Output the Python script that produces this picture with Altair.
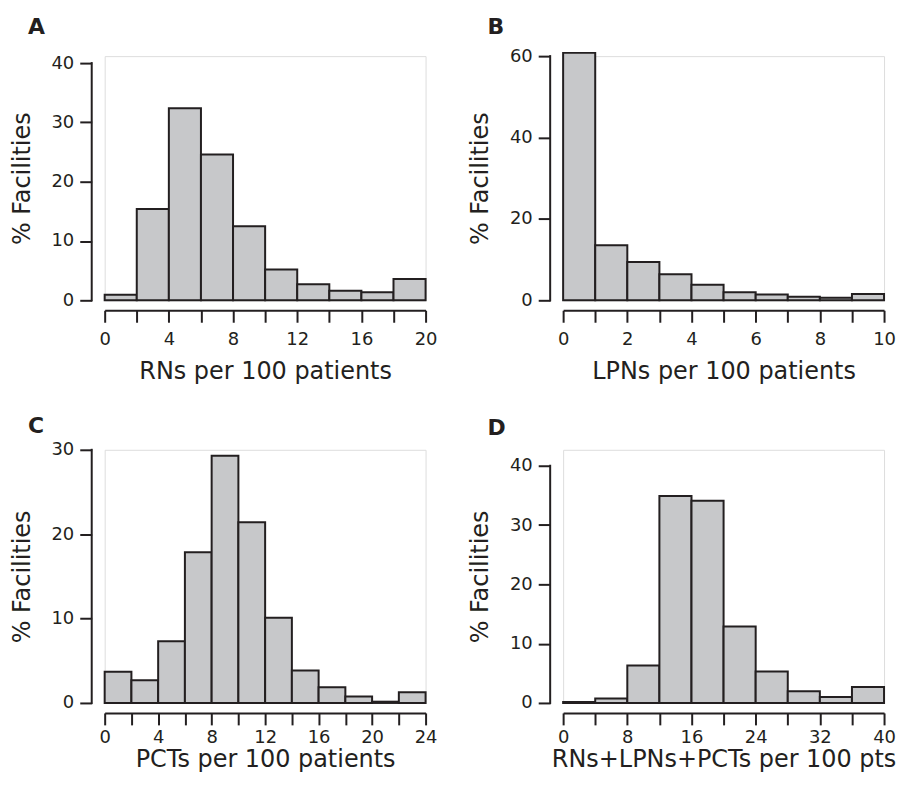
import altair as alt
import pandas as pd

INK = "#231f20"
FILL = "#c7c8ca"
FONT = "DejaVu Sans"

# ---- Panel A: RNs per 100 patients ----
a_starts = [0, 2, 4, 6, 8, 10, 12, 14, 16, 18]
a_pct = [0.95, 15.4, 32.4, 24.6, 12.5, 5.2, 2.7, 1.6, 1.35, 3.6]
a_xticks = [0, 2, 4, 6, 8, 10, 12, 14, 16, 18, 20]
a_xlabels = [0, 4, 8, 12, 16, 20]
a_yticks = [0, 10, 20, 30, 40]

# ---- Panel B: LPNs per 100 patients ----
b_starts = [0, 1, 2, 3, 4, 5, 6, 7, 8, 9]
b_pct = [60.8, 13.5, 9.4, 6.4, 3.8, 2.0, 1.4, 0.9, 0.6, 1.55]
b_xticks = [0, 1, 2, 3, 4, 5, 6, 7, 8, 9, 10]
b_xlabels = [0, 2, 4, 6, 8, 10]
b_yticks = [0, 20, 40, 60]

# ---- Panel C: PCTs per 100 patients ----
c_starts = [0, 2, 4, 6, 8, 10, 12, 14, 16, 18, 20, 22]
c_pct = [3.7, 2.7, 7.3, 17.85, 29.3, 21.4, 10.1, 3.85, 1.85, 0.75, 0.15, 1.26]
c_xticks = [0, 2, 4, 6, 8, 10, 12, 14, 16, 18, 20, 22, 24]
c_xlabels = [0, 4, 8, 12, 16, 20, 24]
c_yticks = [0, 10, 20, 30]

# ---- Panel D: RNs+LPNs+PCTs per 100 pts ----
d_starts = [0, 4, 8, 12, 16, 20, 24, 28, 32, 36]
d_pct = [0.17, 0.73, 6.3, 34.9, 34.1, 12.9, 5.3, 1.96, 1.0, 2.7]
d_xticks = [0, 4, 8, 12, 16, 20, 24, 28, 32, 36, 40]
d_xlabels = [0, 8, 16, 24, 32, 40]
d_yticks = [0, 10, 20, 30, 40]

W = 322
H1 = 245
H2 = 254


def panel(starts, binw, pct, xticks, xlabels, yticks, ydmax, height, xtitle,
          letter, lx, ly, lpad, tpad, anchor=False):
    df = pd.DataFrame({
        "x0": starts,
        "x1": [s + binw for s in starts],
        "pct": pct,
        "y0": [0] * len(starts),
    })
    xmax = xticks[-1]
    xscale = alt.Scale(domain=[0, xmax], nice=False, zero=False)
    yscale = alt.Scale(domain=[0, ydmax], nice=False, zero=True)
    lab = "|".join(str(v) for v in xlabels)
    xaxis = alt.Axis(
        values=xticks,
        labelExpr="indexof('|" + lab + "|', '|' + datum.value + '|') >= 0 ? datum.label : ''",
        title=xtitle, offset=10, tickSize=12, tickWidth=2, domainWidth=2,
        domainColor=INK, tickColor=INK, labelColor=INK, titleColor=INK,
        labelFontSize=18, titleFontSize=24, labelPadding=lpad, titlePadding=tpad,
        labelFlush=False, labelOverlap=False, grid=False,
        labelFont=FONT, titleFont=FONT, titleFontWeight="normal",
    )
    yaxis = alt.Axis(
        values=yticks, title="% Facilities", offset=13, tickSize=12, tickWidth=2,
        domain=False, tickColor=INK, labelColor=INK, titleColor=INK,
        labelFontSize=18, titleFontSize=24, labelPadding=6, titlePadding=17,
        labelFlush=False, labelOverlap=False, grid=False,
        labelFont=FONT, titleFont=FONT, titleFontWeight="normal",
    )
    bars = alt.Chart(df).mark_rect(fill=FILL, stroke=INK, strokeWidth=2).encode(
        x=alt.X("x0:Q", scale=xscale, axis=xaxis),
        x2="x1:Q",
        y=alt.Y("pct:Q", scale=yscale, axis=yaxis),
        y2="y0:Q",
    )
    ldf = pd.DataFrame({"pct": [yticks[-1]], "y0": [0]})
    yline = alt.Chart(ldf).mark_rule(color=INK, strokeWidth=2, strokeCap="square").encode(
        x=alt.value(-13),
        y=alt.Y("pct:Q", scale=yscale, axis=yaxis),
        y2="y0:Q",
    )
    tdf = pd.DataFrame({"lbl": [letter]})
    letter_mark = alt.Chart(tdf).mark_text(
        font=FONT, fontSize=22, fontWeight="bold", color=INK, align="left", baseline="alphabetic"
    ).encode(text="lbl:N", x=alt.value(lx), y=alt.value(ly))
    layers = [bars, yline, letter_mark]
    if anchor:
        # invisible layout anchor fixing the top-left corner of the figure
        anc = alt.Chart(tdf).mark_rule(color="white", opacity=0, strokeWidth=1).encode(
            x=alt.value(-96.5), x2=alt.value(-95.5), y=alt.value(-46.5)
        )
        layers.append(anc)
    return alt.layer(*layers).properties(width=W, height=height)


A = panel(a_starts, 2, a_pct, a_xticks, a_xlabels, a_yticks, H1 / 5.95, H1,
          "RNs per 100 patients", "A", -77, -22, 8, 11, anchor=True)
B = panel(b_starts, 1, b_pct, b_xticks, b_xlabels, b_yticks, 60, H1,
          "LPNs per 100 patients", "B", -76, -22, 8, 11)
C = panel(c_starts, 2, c_pct, c_xticks, c_xlabels, c_yticks, 30, H2,
          "PCTs per 100 patients", "C", -77, -17, 4, 1)
D = panel(d_starts, 4, d_pct, d_xticks, d_xlabels, d_yticks, H2 / 5.95, H2,
          "RNs+LPNs+PCTs per 100 pts", "D", -76, -15, 4, 1)

chart = alt.concat(
    A, B, C, D, columns=2, spacing={"row": 150, "column": 138}, bounds="flush", align="each"
).properties(
    padding={"left": 0, "top": 0, "right": 0, "bottom": 0}
).configure_view(stroke=None).configure(background="white")

chart.save("out.html", embed_options={"renderer": "svg", "actions": False})
